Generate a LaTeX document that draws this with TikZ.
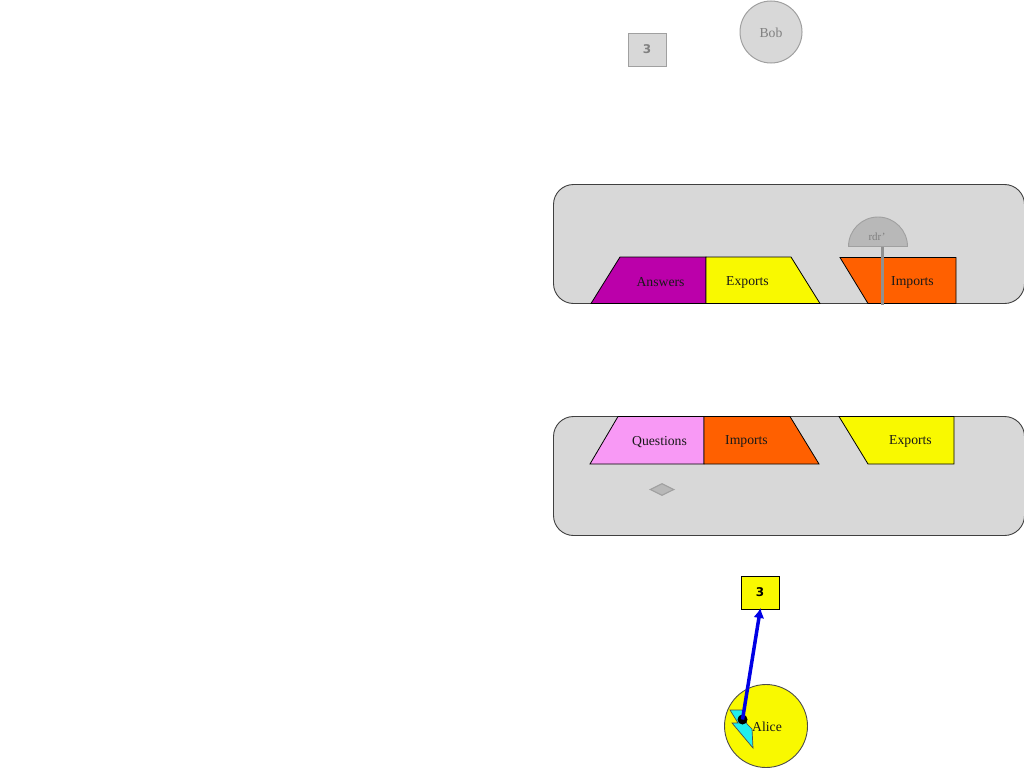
\documentclass[tikz,border=0pt]{standalone}
\usepackage{fontspec}
\usetikzlibrary{shapes.geometric,arrows.meta}
\setmainfont{Liberation Serif}
\newfontfamily\numfont{DejaVu Sans}
\definecolor{panel}{HTML}{D8D8D8}
\definecolor{ghostline}{HTML}{A0A0A0}
\definecolor{ghostdark}{HTML}{B8B8B8}
\definecolor{magentap}{HTML}{BB00AA}
\definecolor{pinkp}{HTML}{F899F5}
\definecolor{orangep}{HTML}{FF6000}
\definecolor{yellowp}{HTML}{F9F900}
\definecolor{cyanp}{HTML}{22EEEE}
\tikzset{
  every node/.style={font=\fontsize{13.7}{15}\selectfont, text=black},
  panelbox/.style={draw=black!75, fill=panel, line width=0.9pt},
  tab/.style={draw=black, line width=0.8pt, line join=miter},
  lbl/.style={inner sep=0pt, text=black!90},
  ghostlbl/.style={inner sep=0pt, text=black!50},
  ghostbox/.style={draw=ghostline, fill=panel, line width=1pt},
  numlbl/.style={font=\numfont\bfseries\fontsize{12}{14}\selectfont, inner sep=0pt}
}
\begin{document}
\begin{tikzpicture}[x=1pt,y=-1pt]
\useasboundingbox (0,0) rectangle (1024,768);
% ghost peers
\node[circle, ghostbox, minimum size=62pt, inner sep=0pt] (bob) at (771,32) {};
\node[ghostlbl] (boblabel) at (771,32.5) {Bob};
\node[rectangle, ghostbox, minimum width=38pt, minimum height=33pt, inner sep=0pt] (ghostthree) at (647.5,50) {};
\node[numlbl, text=black!50] (ghostnum) at (647,49.5) {3};
% upper panel
\draw[panelbox, rounded corners=20pt] (553.5,184.5) rectangle (1024.5,303.5);
\draw[tab, fill=magentap] (591,303.5) -- (620,257) -- (706,257) -- (706,303.5) -- cycle;
\draw[tab, fill=yellowp] (706,303.5) -- (706,257) -- (791,257) -- (820,303.5) -- cycle;
\draw[tab, fill=orangep] (840,257.5) -- (956,257.5) -- (956,303.5) -- (868,303.5) -- cycle;
\node[lbl] (answers) at (660.5,282.5) {Answers};
\node[lbl] (exportsa) at (747.5,282) {Exports};
\node[lbl] (importsa) at (912.5,282) {Imports};
% rdr half disc
\draw[draw=ghostline, fill=ghostdark, line width=0.9pt] (848.5,246.5) arc[start angle=180, end angle=360, radius=29.5] -- cycle;
\coordinate (rdrtop) at (882,246.5);
\coordinate (rdrbottom) at (882,305);
\draw[draw=ghostline!90!black, line width=3pt] (rdrtop) -- (rdrbottom);
\node[ghostlbl, font=\fontsize{11}{13}\selectfont] (rdr) at (877,236.5) {rdr'};
% lower panel
\draw[panelbox, rounded corners=20pt] (553.5,416.5) rectangle (1024.5,535.5);
\draw[tab, fill=pinkp] (590,464) -- (618,416.5) -- (704,416.5) -- (704,464) -- cycle;
\draw[tab, fill=orangep] (704,464) -- (704,416.5) -- (790,416.5) -- (819,464) -- cycle;
\draw[tab, fill=yellowp] (839,416.5) -- (954,416.5) -- (954,464) -- (868,464) -- cycle;
\node[lbl] (questions) at (659.5,442) {Questions};
\node[lbl] (importsb) at (746.5,441.5) {Imports};
\node[lbl] (exportsb) at (910.5,441.5) {Exports};
\node[diamond, aspect=2, draw=ghostline, fill=ghostdark, line width=1.1pt, minimum width=24pt, minimum height=12pt, inner sep=0pt] (gem) at (662,489.5) {};
% Alice
\node[circle, draw=black!70, fill=yellowp, line width=0.9pt, minimum size=83pt, inner sep=0pt] (alice) at (766,726) {};
\node[lbl] (alicelabel) at (767,727) {Alice};
\draw[draw=black!70, fill=cyanp, line width=0.7pt] (730,710) -- (742,710) -- (747,724) -- (752,729) -- (753,748) -- (732,723) -- (738,723) -- cycle;
\node[rectangle, draw=black, fill=yellowp, line width=0.9pt, minimum width=38pt, minimum height=33pt, inner sep=0pt] (three) at (760.5,593) {};
\node[numlbl] (threenum) at (760,592.5) {3};
\node[circle, fill=black, minimum size=10pt, inner sep=0pt] (dot) at (742.5,719.5) {};
\draw[-{Latex[length=10pt,width=11pt]}, draw=blue!90!black, line width=3.5pt] (dot.center) -- ([yshift=2pt]three.south);
\end{tikzpicture}
\end{document}
